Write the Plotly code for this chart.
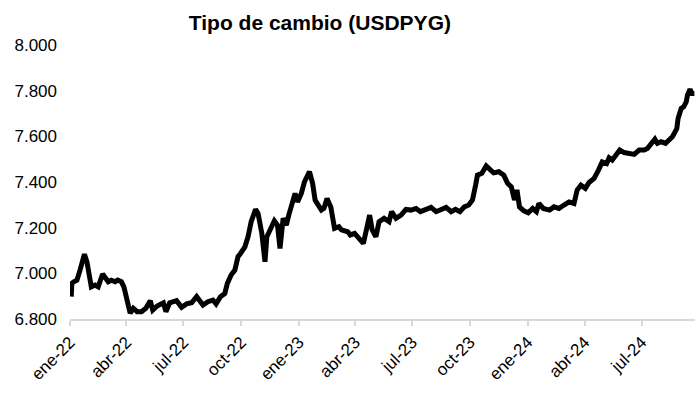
import plotly.graph_objects as go

dates = [
    "2022-01-03", "2022-01-04", "2022-01-07", "2022-01-12", "2022-01-17", "2022-01-24", "2022-01-28",
    "2022-02-01", "2022-02-04", "2022-02-10", "2022-02-15", "2022-02-22", "2022-02-25",
    "2022-03-03", "2022-03-08", "2022-03-14", "2022-03-18", "2022-03-24", "2022-03-28",
    "2022-04-01", "2022-04-07", "2022-04-12", "2022-04-18", "2022-04-25",
    "2022-05-02", "2022-05-09", "2022-05-13", "2022-05-20", "2022-05-30",
    "2022-06-03", "2022-06-09", "2022-06-15", "2022-06-20", "2022-06-28",
    "2022-07-06", "2022-07-14", "2022-07-22", "2022-08-01", "2022-08-09", "2022-08-17", "2022-08-22", "2022-08-29",
    "2022-09-05", "2022-09-09", "2022-09-15", "2022-09-21", "2022-09-26", "2022-09-30",
    "2022-10-07", "2022-10-12", "2022-10-17", "2022-10-24", "2022-10-28",
    "2022-11-03", "2022-11-08", "2022-11-11", "2022-11-17", "2022-11-23", "2022-11-28",
    "2022-12-02", "2022-12-07", "2022-12-12", "2022-12-16", "2022-12-21", "2022-12-26", "2022-12-30",
    "2023-01-05", "2023-01-10", "2023-01-16", "2023-01-18", "2023-01-23", "2023-01-27",
    "2023-02-06", "2023-02-10", "2023-02-15", "2023-02-21", "2023-02-27",
    "2023-03-06", "2023-03-10", "2023-03-20", "2023-03-24", "2023-03-31",
    "2023-04-07", "2023-04-14", "2023-04-24", "2023-04-28",
    "2023-05-04", "2023-05-09", "2023-05-17", "2023-05-25", "2023-05-29",
    "2023-06-05", "2023-06-13", "2023-06-21", "2023-06-29",
    "2023-07-07", "2023-07-14", "2023-07-24", "2023-07-31",
    "2023-08-08", "2023-08-16", "2023-08-24", "2023-09-01", "2023-09-08", "2023-09-15", "2023-09-22", "2023-09-29",
    "2023-10-05", "2023-10-10", "2023-10-13", "2023-10-20", "2023-10-27",
    "2023-11-03", "2023-11-08", "2023-11-16", "2023-11-24", "2023-11-30",
    "2023-12-06", "2023-12-11", "2023-12-15", "2023-12-19", "2023-12-26",
    "2024-01-02", "2024-01-09", "2024-01-15", "2024-01-19", "2024-01-26",
    "2024-02-05", "2024-02-12", "2024-02-20", "2024-02-28",
    "2024-03-07", "2024-03-15", "2024-03-20", "2024-03-26",
    "2024-04-02", "2024-04-08", "2024-04-16", "2024-04-23", "2024-04-29",
    "2024-05-06", "2024-05-10", "2024-05-15", "2024-05-21", "2024-05-27",
    "2024-06-03", "2024-06-11", "2024-06-19", "2024-06-27",
    "2024-07-05", "2024-07-10", "2024-07-16", "2024-07-22", "2024-07-26",
    "2024-08-01", "2024-08-08", "2024-08-14", "2024-08-19", "2024-08-26", "2024-08-28",
    "2024-09-02", "2024-09-06", "2024-09-10", "2024-09-12", "2024-09-16", "2024-09-19", "2024-09-23",
]

usdpyg = [
    6898, 6957, 6963, 6970, 7014, 7084, 7050,
    6985, 6941, 6949, 6941, 6997, 6985,
    6963, 6970, 6963, 6970, 6963, 6941,
    6898, 6825, 6847, 6832, 6832,
    6847, 6880, 6839, 6857, 6871,
    6832, 6871, 6876, 6880, 6851,
    6866, 6871, 6898, 6861, 6876, 6883, 6866, 6898,
    6912, 6956, 6993, 7014, 7073, 7087,
    7116, 7160, 7226, 7280, 7262,
    7175, 7051, 7160, 7190, 7230, 7211,
    7109, 7241, 7211, 7255, 7313, 7350, 7313,
    7350, 7401, 7440, 7445, 7394, 7321,
    7277, 7284, 7328, 7291, 7197,
    7204, 7190, 7182, 7168, 7175,
    7153, 7131, 7255, 7190,
    7160, 7226, 7241, 7226, 7270,
    7241, 7255, 7280, 7277,
    7284, 7270, 7280, 7289,
    7270, 7277, 7289, 7270, 7280, 7270, 7291, 7299,
    7321, 7386, 7430, 7438, 7470,
    7452, 7440, 7445, 7430, 7394,
    7379, 7321, 7365, 7291, 7274,
    7265, 7284, 7270, 7306, 7284,
    7277, 7291, 7284, 7299,
    7313, 7306, 7365, 7386,
    7372, 7398, 7416, 7452, 7488,
    7481, 7506, 7496, 7518, 7540,
    7529, 7525, 7521, 7540,
    7540, 7547, 7569, 7588, 7569,
    7576, 7569, 7583, 7598, 7634, 7678,
    7722, 7729, 7751, 7780, 7806, 7788, 7788,
]

tick_dates = ["2022-01-01", "2022-04-01", "2022-07-01", "2022-10-01", "2023-01-01", "2023-04-01",
              "2023-07-01", "2023-10-01", "2024-01-01", "2024-04-01", "2024-07-01", "2024-10-01"]
tick_labels = ["ene-22", "abr-22", "jul-22", "oct-22", "ene-23", "abr-23",
               "jul-23", "oct-23", "ene-24", "abr-24", "jul-24", ""]

y_ticks = [6800, 7000, 7200, 7400, 7600, 7800, 8000]
y_labels = ["6.800", "7.000", "7.200", "7.400", "7.600", "7.800", "8.000"]

fig = go.Figure()
fig.add_trace(go.Scatter(x=dates, y=usdpyg, mode="lines",
                         line=dict(color="black", width=5), hoverinfo="skip",
                         cliponaxis=False))

fig.update_layout(
    width=700, height=396,
    margin=dict(l=70, r=5, t=45, b=77, autoexpand=False),
    paper_bgcolor="white", plot_bgcolor="white",
    showlegend=False,
    font=dict(family="Liberation Sans, Arial, sans-serif", size=17, color="#000000"),
    title=dict(text="<b>Tipo de cambio (USDPYG)</b>", x=0.457, xanchor="center",
               y=0.944, yanchor="middle", font=dict(size=21, color="#000000")),
)
fig.update_xaxes(
    type="date", range=["2022-01-01", "2024-09-24"], automargin=False,
    tickmode="array", tickvals=tick_dates, ticktext=tick_labels, tickangle=-45,
    showgrid=False, showline=True, linecolor="#d9d9d9", linewidth=1.5,
    ticks="outside", ticklen=5, tickcolor="#d9d9d9", tickwidth=1.5,
    zeroline=False, tickfont=dict(size=17),
)
fig.update_yaxes(
    range=[6800, 8000], tickmode="array", tickvals=y_ticks, ticktext=y_labels,
    automargin=False,
    showgrid=False, showline=False, zeroline=False, ticks="",
    ticklabelstandoff=12, tickfont=dict(size=17),
)

fig.write_html("out.html", config={"displayModeBar": False},
               post_script="document.body.style.margin='0';")
